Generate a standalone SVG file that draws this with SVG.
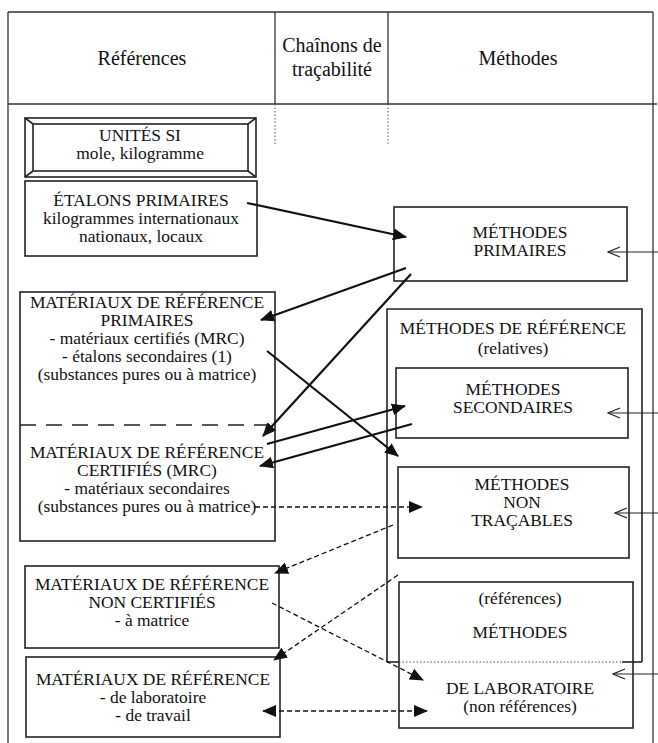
<svg xmlns="http://www.w3.org/2000/svg" width="658" height="743" viewBox="0 0 658 743">
<style>
  text { font-family: "Liberation Serif", "Times New Roman", serif; font-size: 16px; fill: #111; text-anchor: middle; }
  .hdr { font-size: 20px; }
  .box { fill: none; stroke: #222; stroke-width: 1.6; }
  .frame { fill: none; stroke: #333; stroke-width: 1.3; }
  .dot { fill: none; stroke: #555; stroke-width: 1; stroke-dasharray: 1.5,2; }
  .solid { fill: none; stroke: #111; stroke-width: 2.2; marker-end: url(#fa); }
  .dash { fill: none; stroke: #111; stroke-width: 1.3; stroke-dasharray: 5,3; marker-end: url(#fa); }
  .thin { fill: none; stroke: #222; stroke-width: 1.2; marker-end: url(#oa); }
</style>
<defs>
  <marker id="fa" markerUnits="userSpaceOnUse" markerWidth="14" markerHeight="12" viewBox="0 0 14 12" refX="13" refY="6" orient="auto-start-reverse">
    <path d="M0,0 L14,6 L0,12 z" fill="#111"/>
  </marker>
  <marker id="oa" markerUnits="userSpaceOnUse" markerWidth="14" markerHeight="12" viewBox="0 0 14 12" refX="13" refY="6" orient="auto">
    <path d="M1,1 L13,6 L1,11" fill="none" stroke="#222" stroke-width="1.2"/>
  </marker>
</defs>

<g id="frame">
  <line class="frame" x1="8" y1="12" x2="653" y2="12"/>
  <line class="frame" x1="8" y1="12" x2="8" y2="743"/>
  <line class="frame" x1="653" y1="12" x2="653" y2="743"/>
  <line class="frame" x1="8" y1="104" x2="657" y2="104"/>
  <line class="frame" x1="275" y1="12" x2="275" y2="104"/>
  <line class="frame" x1="388" y1="12" x2="388" y2="104"/>
  <line class="dot" x1="275" y1="104" x2="275" y2="146"/>
  <line class="dot" x1="388" y1="104" x2="388" y2="146"/>
  <text class="hdr" x="142" y="65">Références</text>
  <text class="hdr" x="332" y="52">Chaînons de</text>
  <text class="hdr" x="332" y="76">traçabilité</text>
  <text class="hdr" x="518" y="65">Méthodes</text>
</g>

<g id="unites-si">
  <rect class="box" x="25" y="118" width="231" height="59"/>
  <rect class="box" x="33" y="124" width="215" height="47"/>
  <path class="box" d="M25,118 L33,124 M256,118 L248,124 M25,177 L33,171 M256,177 L248,171"/>
  <g transform="translate(140 0) scale(1.09 1)">
    <text x="0" y="141">UNITÉS SI</text>
    <text x="0" y="159">mole, kilogramme</text>
  </g>
</g>

<g id="etalons-primaires">
  <rect class="box" x="25" y="181" width="232" height="75"/>
  <g transform="translate(141 0) scale(1.09 1)">
    <text x="0" y="206">ÉTALONS PRIMAIRES</text>
    <text x="0" y="224">kilogrammes internationaux</text>
    <text x="0" y="242">nationaux, locaux</text>
  </g>
</g>

<g id="materiaux-primaires-certifies">
  <rect class="box" x="20" y="292" width="255" height="249"/>
  <line x1="20" y1="425" x2="275" y2="425" stroke="#222" stroke-width="1.6" stroke-dasharray="16,10"/>
  <g transform="translate(147 0) scale(1.09 1)">
    <text x="0" y="308">MATÉRIAUX DE RÉFÉRENCE</text>
    <text x="0" y="326">PRIMAIRES</text>
    <text x="0" y="344">- matériaux certifiés (MRC)</text>
    <text x="0" y="362">- étalons secondaires (1)</text>
    <text x="0" y="380">(substances pures ou à matrice)</text>
    <text x="0" y="458">MATÉRIAUX DE RÉFÉRENCE</text>
    <text x="0" y="476">CERTIFIÉS (MRC)</text>
    <text x="0" y="494">- matériaux secondaires</text>
    <text x="0" y="512">(substances pures ou à matrice)</text>
  </g>
</g>

<g id="materiaux-non-certifies">
  <rect class="box" x="25" y="566" width="254" height="82"/>
  <g transform="translate(152 0) scale(1.09 1)">
    <text x="0" y="590">MATÉRIAUX DE RÉFÉRENCE</text>
    <text x="0" y="608">NON CERTIFIÉS</text>
    <text x="0" y="626">- à matrice</text>
  </g>
</g>

<g id="materiaux-laboratoire">
  <rect class="box" x="26" y="657" width="254" height="80"/>
  <g transform="translate(153 0) scale(1.09 1)">
    <text x="0" y="685">MATÉRIAUX DE RÉFÉRENCE</text>
    <text x="0" y="703">- de laboratoire</text>
    <text x="0" y="721">- de travail</text>
  </g>
</g>

<g id="methodes-primaires">
  <rect class="box" x="394" y="207" width="233" height="74"/>
  <g transform="translate(520 0) scale(1.09 1)">
    <text x="0" y="238">MÉTHODES</text>
    <text x="0" y="256">PRIMAIRES</text>
  </g>
</g>

<g id="methodes-reference">
  <path class="box" d="M387,662 L387,309 L642,309 L642,662"/>
  <line x1="387" y1="662" x2="399" y2="662" stroke="#222" stroke-width="1.6"/>
  <line x1="622" y1="662" x2="642" y2="662" stroke="#222" stroke-width="1.6"/>
  <g transform="translate(513 0) scale(1.09 1)">
    <text x="0" y="334">MÉTHODES DE RÉFÉRENCE</text>
    <text x="0" y="354">(relatives)</text>
  </g>
</g>

<g id="methodes-secondaires">
  <rect class="box" x="396" y="368" width="232" height="70"/>
  <g transform="translate(513 0) scale(1.09 1)">
    <text x="0" y="395">MÉTHODES</text>
    <text x="0" y="413">SECONDAIRES</text>
  </g>
</g>

<g id="methodes-non-tracables">
  <rect class="box" x="398" y="467" width="231" height="91"/>
  <g transform="translate(522 0) scale(1.09 1)">
    <text x="0" y="490">MÉTHODES</text>
    <text x="0" y="508">NON</text>
    <text x="0" y="526">TRAÇABLES</text>
  </g>
</g>

<g id="methodes-laboratoire">
  <rect class="box" x="399" y="582" width="234" height="146"/>
  <line class="dot" x1="399" y1="662" x2="622" y2="662"/>
  <g transform="translate(520 0) scale(1.09 1)">
    <text x="0" y="604">(références)</text>
    <text x="0" y="638">MÉTHODES</text>
    <text x="0" y="694">DE LABORATOIRE</text>
    <text x="0" y="712">(non références)</text>
  </g>
</g>

<g id="connectors">
  <line class="solid" x1="247" y1="203" x2="406" y2="237"/>
  <line class="solid" x1="406" y1="268" x2="261" y2="320"/>
  <line class="solid" x1="411" y1="274" x2="263" y2="436"/>
  <line class="solid" x1="267" y1="351" x2="398" y2="456"/>
  <line class="solid" x1="267" y1="444" x2="405" y2="406"/>
  <line class="solid" x1="412" y1="424" x2="260" y2="466"/>
  <line class="dash" x1="255" y1="507" x2="422" y2="507"/>
  <line class="dash" x1="393" y1="525" x2="275" y2="573"/>
  <line class="dash" x1="398" y1="575" x2="274" y2="660"/>
  <line class="dash" x1="272" y1="603" x2="423" y2="680"/>
  <line class="dash" x1="263" y1="711" x2="427" y2="711" marker-start="url(#fa)"/>
  <line class="thin" x1="658" y1="252" x2="608" y2="252"/>
  <line class="thin" x1="658" y1="413" x2="608" y2="413"/>
  <line class="thin" x1="658" y1="513" x2="615" y2="513"/>
  <line class="thin" x1="658" y1="674" x2="613" y2="674"/>
</g>
</svg>
